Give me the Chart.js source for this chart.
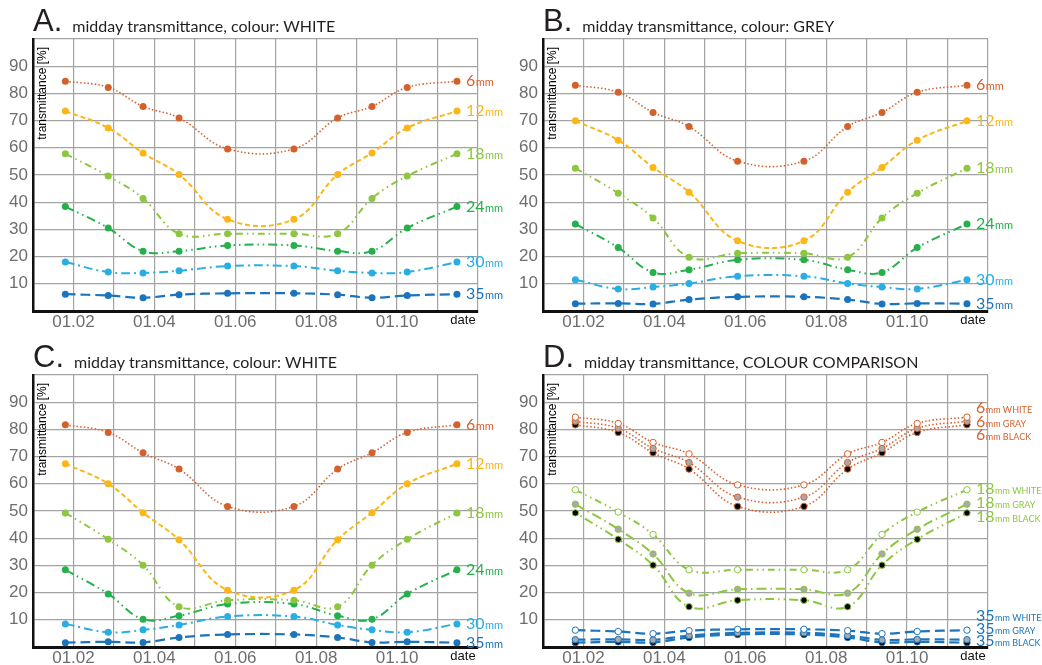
<!DOCTYPE html>
<html>
<head>
<meta charset="utf-8">
<script src="https://cdn.jsdelivr.net/npm/chart.js@4.4.1/dist/chart.umd.min.js"></script>
<style>
html, body { margin: 0; padding: 0; background: #fff; width: 1042px; height: 665px; overflow: hidden; }
.panel { position: absolute; width: 532px; height: 332px; }
</style>
</head>
<body>
<div class="panel" style="left:0;top:0"><canvas id="chartA"></canvas></div>
<div class="panel" style="left:510px;top:0"><canvas id="chartB"></canvas></div>
<div class="panel" style="left:0;top:336px"><canvas id="chartC"></canvas></div>
<div class="panel" style="left:510px;top:336px"><canvas id="chartD"></canvas></div>
<script>
// measurement dates, in months counted from 01.01
const measureDates = [0.80, 1.86, 2.72, 3.61, 4.81, 6.45, 7.53, 8.38, 9.25, 10.48];
const monthTicks = [1, 3, 5, 7, 9];
const monthLabels = ['01.02', '01.04', '01.06', '01.08', '01.10'];
const yTicks = [10, 20, 30, 40, 50, 60, 70, 80, 90];
const thicknesses = ['6', '12', '18', '24', '30', '35'];

// colour WHITE
const white6  = [84.5, 82.2, 75.2, 71.0, 59.6, 59.6, 71.0, 75.2, 82.2, 84.5];
const white12 = [73.5, 67.3, 58.1, 50.2, 33.7, 33.7, 50.2, 58.1, 67.3, 73.5];
const white18 = [57.8, 49.6, 41.4, 28.4, 28.4, 28.4, 28.4, 41.4, 49.6, 57.8];
const white24 = [38.4, 30.5, 22.0, 22.0, 24.1, 24.1, 22.0, 22.0, 30.5, 38.4];
const white30 = [18.0, 14.3, 14.0, 14.8, 16.5, 16.5, 14.8, 14.0, 14.3, 18.0];
const white35 = [6.2, 5.7, 4.9, 6.0, 6.5, 6.5, 6.0, 4.9, 5.7, 6.2];

// colour GREY
const grey6  = [83.0, 80.4, 73.0, 67.8, 55.1, 55.1, 67.8, 73.0, 80.4, 83.0];
const grey12 = [69.9, 62.8, 52.8, 43.7, 25.8, 25.8, 43.7, 52.8, 62.8, 69.9];
const grey18 = [52.5, 43.3, 34.2, 19.8, 21.2, 21.2, 19.8, 34.2, 43.3, 52.5];
const grey24 = [32.0, 23.3, 14.2, 15.2, 18.8, 18.8, 15.2, 14.2, 23.3, 32.0];
const grey30 = [11.5, 8.1, 8.8, 10.1, 12.8, 12.8, 10.1, 8.8, 8.1, 11.5];
const grey35 = [2.7, 2.8, 2.6, 4.2, 5.2, 5.2, 4.2, 2.6, 2.8, 2.7];

// panel C (black)
const black6  = [81.7, 78.9, 71.4, 65.4, 51.7, 51.7, 65.4, 71.4, 78.9, 81.7];
const black12 = [67.4, 60.0, 49.4, 39.4, 20.9, 20.9, 39.4, 49.4, 60.0, 67.4];
const black18 = [49.3, 39.6, 30.1, 14.8, 17.2, 17.2, 14.8, 30.1, 39.6, 49.3];
const black24 = [28.4, 19.5, 10.2, 11.5, 15.8, 15.8, 11.5, 10.2, 19.5, 28.4];
const black30 = [8.5, 5.4, 6.3, 8.1, 11.2, 11.2, 8.1, 6.3, 5.4, 8.5];
const black35 = [1.6, 1.9, 1.7, 3.5, 4.6, 4.6, 3.5, 1.7, 1.9, 1.6];

// panel D label heights
const compareLabelY6  = [87.8, 82.7, 77.8];
const compareLabelY18 = [58.1, 53.1, 47.9];
const compareLabelY35 = [11.5, 6.7, 2.2];
const compareNames = ['WHITE', 'GRAY', 'BLACK'];

const styles = {
    '6':  { color: '#d4612c', dash: [1.5, 2.2], width: 1.6 },
    '12': { color: '#fbb617', dash: [5, 3], width: 2 },
    '18': { color: '#8dc63f', dash: [7, 4, 1.5, 4, 1.5, 4], width: 2 },
    '24': { color: '#25b04b', dash: [9, 4, 1.5, 4, 1.5, 4], width: 2 },
    '30': { color: '#29aee4', dash: [9, 4, 2, 4], width: 2 },
    '35': { color: '#1c75bc', dash: [10, 5], width: 2.2 },
};

function points(values) {
    return values.map((y, i) => ({ x: measureDates[i], y }));
}

function seriesSet(list) {
    return list.map((values, i) => {
        const s = styles[thicknesses[i]];
        return {
            data: points(values),
            borderColor: s.color,
            backgroundColor: s.color,
            borderDash: s.dash,
            borderWidth: s.width,
            pointRadius: 3.5,
            pointBorderWidth: 0,
            pointBackgroundColor: s.color,
            tension: 0.4,
        };
    });
}

function seriesLabels(list) {
    return list.map((values, i) => ({
        value: values[values.length - 1],
        num: thicknesses[i],
        rest: 'mm',
        restSize: 11,
        color: styles[thicknesses[i]].color,
    }));
}

const panelText = {
    id: 'panelText',
    afterDraw(chart, args, opts) {
        const ctx = chart.ctx;
        const area = chart.chartArea;
        const xs = chart.scales.x;
        const ys = chart.scales.y;
        ctx.save();
        ctx.textAlign = 'left';
        ctx.textBaseline = 'alphabetic';
        ctx.fillStyle = '#231f20';
        ctx.font = '31px "Liberation Sans"';
        ctx.fillText(opts.letter, area.left, 31);
        const lw = ctx.measureText(opts.letter).width;
        ctx.font = '16px Lato';
        ctx.fillText(opts.subtitle, area.left + lw + 10, 32);

        ctx.fillStyle = '#111';
        ctx.font = '13px "Liberation Sans"';
        ctx.textAlign = 'center';
        ctx.textBaseline = 'middle';
        ctx.fillText('date', area.right - 15, area.bottom + 9);

        const lastX = xs.getPixelForValue(measureDates[measureDates.length - 1]) + 9;
        ctx.textAlign = 'left';
        ctx.textBaseline = 'alphabetic';
        opts.labels.forEach(l => {
            const y = ys.getPixelForValue(l.value) + 5;
            ctx.fillStyle = l.color;
            ctx.font = '16px Lato';
            ctx.fillText(l.num, lastX, y);
            const w = ctx.measureText(l.num).width;
            ctx.font = l.restSize + 'px Lato';
            ctx.fillText(l.rest, lastX + w + 0.5, y);
        });

        ctx.fillStyle = '#000';
        ctx.font = '12px "Liberation Sans"';
        ctx.translate(area.left + 10, area.top + 8);
        ctx.rotate(-Math.PI / 2);
        ctx.textAlign = 'right';
        ctx.textBaseline = 'middle';
        ctx.fillText('transmittance [%]', 0, 0);
        ctx.restore();
    }
};

function makePanel(canvasId, letter, subtitle, datasets, labels) {
    return new Chart(document.getElementById(canvasId), {
        type: 'line',
        data: { datasets },
        plugins: [panelText],
        options: {
            responsive: true,
            maintainAspectRatio: false,
            animation: false,
            layout: { padding: { top: 39, right: 54, left: 0, bottom: 0 } },
            plugins: {
                legend: { display: false },
                tooltip: { enabled: false },
                panelText: { letter, subtitle, labels },
            },
            scales: {
                x: {
                    type: 'linear',
                    min: 0,
                    max: 11,
                    afterFit: (scale) => { scale.height = 21; },
                    afterBuildTicks: (scale) => {
                        scale.ticks = [];
                        for (let m = 0; m <= 11; m++) scale.ticks.push({ value: m });
                    },
                    ticks: {
                        autoSkip: false,
                        maxRotation: 0,
                        padding: 1,
                        color: '#6d6e71',
                        font: { family: '"Liberation Sans"', size: 17 },
                        callback: (v) => {
                            const i = monthTicks.indexOf(v);
                            return i >= 0 ? monthLabels[i] : '';
                        },
                    },
                    grid: { color: '#a3a3a3', lineWidth: 1.2, drawTicks: false },
                    border: { color: '#111', width: 3 },
                },
                y: {
                    min: 0,
                    max: 100,
                    afterFit: (scale) => { scale.width = 33; },
                    afterBuildTicks: (scale) => {
                        scale.ticks = [];
                        for (let v = 0; v <= 100; v += 10) scale.ticks.push({ value: v });
                    },
                    ticks: {
                        padding: 5,
                        color: '#6d6e71',
                        font: { family: '"Liberation Sans"', size: 17 },
                        callback: (v) => yTicks.includes(v) ? String(v) : '',
                    },
                    grid: { color: '#a3a3a3', lineWidth: 1.2, drawTicks: false },
                    border: { color: '#111', width: 2.5 },
                },
            },
        },
    });
}

const seriesA = [white6, white12, white18, white24, white30, white35];
const seriesB = [grey6, grey12, grey18, grey24, grey30, grey35];
const seriesC = [black6, black12, black18, black24, black30, black35];

makePanel('chartA', 'A.', 'midday transmittance, colour: WHITE', seriesSet(seriesA), seriesLabels(seriesA));
makePanel('chartB', 'B.', 'midday transmittance, colour: GREY', seriesSet(seriesB), seriesLabels(seriesB));
makePanel('chartC', 'C.', 'midday transmittance, colour: WHITE', seriesSet(seriesC), seriesLabels(seriesC));

// panel D: WHITE / GRAY / BLACK for 6, 18 and 35 mm
const markerFill = ['#ffffff', '#a7a9ac', '#000000'];
const dash18 = [[7, 4, 1.5, 4, 1.5, 4], [10, 4, 1.5, 4], [1.5, 4, 1.5, 4, 9, 4]];
const compareGroups = [
    { key: '6', values: [white6, grey6, black6], labelY: compareLabelY6 },
    { key: '18', values: [white18, grey18, black18], labelY: compareLabelY18 },
    { key: '35', values: [white35, grey35, black35], labelY: compareLabelY35 },
];
const datasetsD = [];
const labelsD = [];
compareGroups.forEach(g => {
    const s = styles[g.key];
    g.values.forEach((values, i) => {
        datasetsD.push({
            data: points(values),
            borderColor: s.color,
            borderDash: g.key === '18' ? dash18[i] : s.dash,
            borderWidth: s.width,
            pointRadius: 3.2,
            pointBorderWidth: 1,
            pointBorderColor: s.color,
            pointBackgroundColor: markerFill[i],
            tension: 0.4,
        });
        labelsD.push({ value: g.labelY[i], num: g.key, rest: 'mm ' + compareNames[i], restSize: 9, color: s.color });
    });
});
makePanel('chartD', 'D.', 'midday transmittance, COLOUR COMPARISON', datasetsD, labelsD);
</script>
</body>
</html>
